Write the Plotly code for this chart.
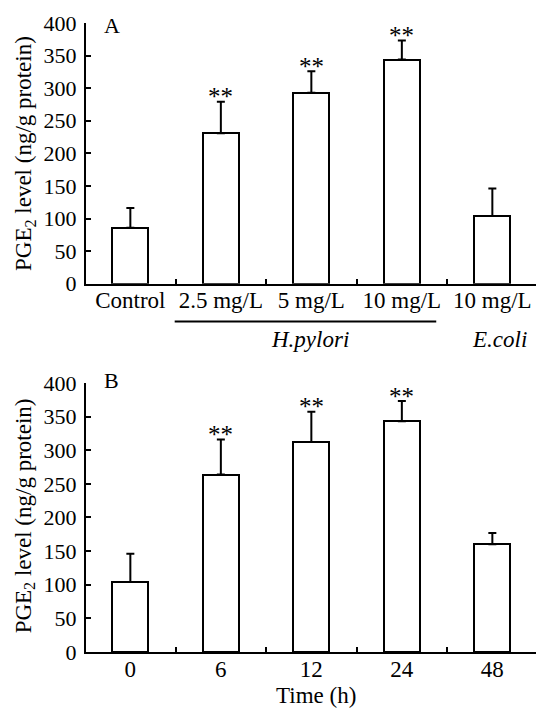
import plotly.graph_objects as go

# ---------------- data ----------------
labels_a = ["Control", "2.5 mg/L", "5 mg/L", "10 mg/L", "10 mg/L"]
values_a = [86, 231, 293, 344, 104]
err_top_a = [116, 279, 326, 373, 146]
stars_a = ["", "**", "**", "**", ""]

labels_b = ["0", "6", "12", "24", "48"]
values_b = [104, 264, 312, 343, 160]
err_top_b = [146, 316, 357, 373, 177]
stars_b = ["", "**", "**", "**", ""]

yticks = [0, 50, 100, 150, 200, 250, 300, 350, 400]
group_labels = ["H.pylori", "E.coli"]

FONT = "Liberation Serif"
W, H = 536, 709
ML, MR, MT, MB = 86, 0, 22.5, 57.3
PW = W - ML - MR
PH = H - MT - MB

def py(pix):  # pixel y -> paper y
    return (H - MB - pix) / PH

def px(pix):  # pixel x -> paper x
    return (pix - ML) / PW

xa = list(range(len(labels_a)))
xb = list(range(len(labels_b)))

fig = go.Figure()

def add_panel(xs, vals, tops, xaxis, yaxis):
    fig.add_trace(go.Bar(
        x=xs, y=vals, width=0.4,
        marker=dict(color="white", line=dict(color="black", width=2)),
        error_y=dict(type="data", symmetric=False,
                     array=[t - v for t, v in zip(tops, vals)],
                     arrayminus=[0] * len(vals),
                     color="black", thickness=2, width=4),
        xaxis=xaxis, yaxis=yaxis, showlegend=False, hoverinfo="skip",
    ))

add_panel(xa, values_a, err_top_a, "x", "y")
add_panel(xb, values_b, err_top_b, "x2", "y2")

ydom_a = [py(283.3), py(22.5)]
ydom_b = [py(651.7), py(382.5)]

xrange_ = [-0.49, -0.49 + PW / 90.5]

def xaxis_cfg(labels, anchor):
    n = len(labels)
    return dict(
        domain=[0, 1], anchor=anchor, range=xrange_, automargin=False,
        tickmode="array", tickvals=list(range(n)), ticktext=labels,
        ticks="", showgrid=False, zeroline=False,
        showline=True, linecolor="black", linewidth=2,
        tickfont=dict(family=FONT, size=23, color="black"),
        ticklabelstandoff=-5,
        minor=dict(tickmode="array", tickvals=[i + 0.5 for i in range(n - 1)],
                   ticks="inside", ticklen=5, tickwidth=2, tickcolor="black",
                   showgrid=False),
    )

def yaxis_cfg(dom, anchor):
    return dict(
        domain=dom, anchor=anchor, range=[0, 400], automargin=False,
        tickmode="array", tickvals=yticks,
        ticks="inside", ticklen=5, tickwidth=2, tickcolor="black",
        showgrid=False, zeroline=False,
        showline=True, linecolor="black", linewidth=2,
        tickfont=dict(family=FONT, size=22, color="black"),
        ticklabelstandoff=3,
    )

fig.update_layout(
    template="none",
    width=W, height=H,
    margin=dict(l=ML, r=MR, t=MT, b=MB, pad=0, autoexpand=False),
    paper_bgcolor="white", plot_bgcolor="white",
    xaxis=xaxis_cfg(labels_a, "y"),
    yaxis=yaxis_cfg(ydom_a, "x"),
    xaxis2=xaxis_cfg(labels_b, "y2"),
    yaxis2=yaxis_cfg(ydom_b, "x2"),
    bargap=0,
)

ann = []
# significance stars
for xs, tops, st, xr, yr in [(xa, err_top_a, stars_a, "x", "y"), (xb, err_top_b, stars_b, "x2", "y2")]:
    for x, t, s in zip(xs, tops, st):
        if s:
            ann.append(dict(x=x, y=t, xref=xr, yref=yr, text=s, showarrow=False,
                            xanchor="center", yanchor="middle", yshift=5,
                            font=dict(family=FONT, size=25, color="black")))

# panel letters
ann.append(dict(x=px(101.5), y=py(25), xref="paper", yref="paper", text="A", showarrow=False,
                xanchor="left", yanchor="middle", font=dict(family=FONT, size=22, color="black")))
ann.append(dict(x=px(101.5), y=py(379.7), xref="paper", yref="paper", text="B", showarrow=False,
                xanchor="left", yanchor="middle", font=dict(family=FONT, size=22, color="black")))

# y-axis titles
ytitle = "PGE<sub>2</sub> level (ng/g protein)"
ann.append(dict(x=px(25), y=py(153.5), xref="paper", yref="paper", text=ytitle, showarrow=False,
                textangle=-90, xanchor="center", yanchor="middle",
                font=dict(family=FONT, size=23, color="black")))
ann.append(dict(x=px(25), y=py(516), xref="paper", yref="paper", text=ytitle, showarrow=False,
                textangle=-90, xanchor="center", yanchor="middle",
                font=dict(family=FONT, size=23, color="black")))

# group labels
ann.append(dict(x=1.98, y=py(339), xref="x", yref="paper", text="<i>" + group_labels[0] + "</i>",
                showarrow=False, xanchor="center", yanchor="middle",
                font=dict(family=FONT, size=23, color="black")))
ann.append(dict(x=4.08, y=py(339), xref="x", yref="paper", text="<i>" + group_labels[1] + "</i>",
                showarrow=False, xanchor="center", yanchor="middle",
                font=dict(family=FONT, size=23, color="black")))

# x-axis title panel B
ann.append(dict(x=px(316), y=py(695.5), xref="paper", yref="paper", text="Time (h)", showarrow=False,
                xanchor="center", yanchor="middle", font=dict(family=FONT, size=23, color="black")))

fig.update_layout(annotations=ann)

# underline for H.pylori group
fig.add_shape(type="line", xref="x", yref="paper", x0=0.49, x1=3.38,
              y0=py(321), y1=py(321), line=dict(color="black", width=2))

fig.write_html("out.html", config={"displayModeBar": False},
               post_script="document.body.style.margin='0';document.body.style.overflow='hidden';")
